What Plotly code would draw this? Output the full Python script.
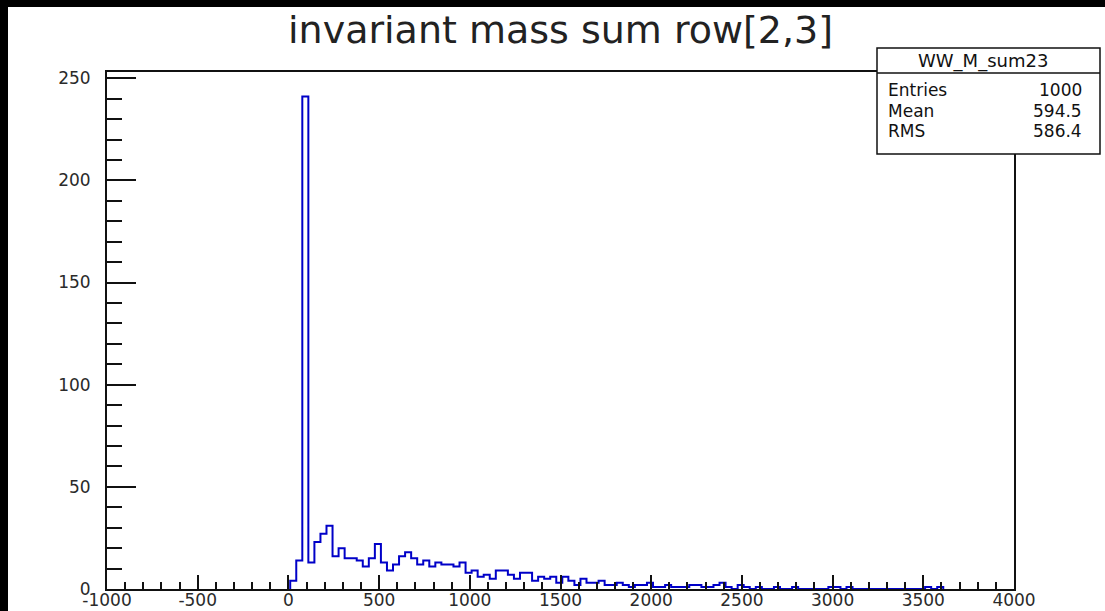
import plotly.graph_objects as go

# Histogram binning: 150 bins over [-1000, 4000] -> width 100/3
bin_width = 100.0 / 3.0
first_edge = 10.0

# Bin contents, starting at first_edge
counts = [
    4, 14, 241, 13, 23, 27, 31, 16, 20, 15,
    15, 14, 11, 15, 22, 13, 9, 12, 16, 18,
    15, 12, 14, 11, 13, 12, 12, 11, 13, 8,
    9, 6, 7, 5, 9, 9, 7, 5, 8, 8,
    4, 6, 5, 6, 3, 6, 4, 2, 5, 3,
    3, 4, 2, 2, 3, 2, 1, 2, 2, 3,
    1, 1, 2, 1, 1, 1, 2, 2, 1, 1,
    2, 3, 1, 0, 2, 1, 0, 1, 0, 0,
    1, 0, 0, 1, 0, 0, 0, 0, 0, 1,
    1, 0, 1, 0, 0, 0, 0, 0, 0, 0,
    0, 0, 0, 0, 0, 1, 0, 1,
]

title_text = "invariant mass sum row[2,3]"
hist_name = "WW_M_sum23"
stat_labels = ["Entries", "Mean", "RMS"]
stat_values = ["1000", "594.5", "586.4"]

x_tickvals = [-1000, -500, 0, 500, 1000, 1500, 2000, 2500, 3000, 3500, 4000]
x_ticktext = ["-1000", "-500", "0", "500", "1000", "1500", "2000", "2500",
              "3000", "3500", "4000"]
y_tickvals = [0, 50, 100, 150, 200, 250]
y_ticktext = ["0", "50", "100", "150", "200", "250"]

x_range = [-1000, 4000]
y_range = [0, 1.05 * max(counts)]

# Canvas geometry in pixels
W, H = 1105, 611
L, R, T, B = 107, 1014, 72, 589


def px(xp):
    return (xp - L) / (R - L)


def py(yp):
    return (B - yp) / (B - T)


edges = [first_edge + i * bin_width for i in range(len(counts) + 1)]
xs = [edges[0]] + edges[:-1] + [edges[-1]]
ys = [0] + counts + [0]

fig = go.Figure()
fig.add_trace(go.Scatter(
    x=xs, y=ys, mode="lines",
    line=dict(color="#0000c8", width=2, shape="hv"),
    hoverinfo="skip", showlegend=False,
))

ink = "#111111"
tick_font = dict(family="DejaVu Sans", size=17, color="#2a2a2a")
axis_common = dict(
    showgrid=False, zeroline=False, showline=True, linecolor=ink,
    linewidth=2, mirror=True, ticks="inside", tickcolor=ink,
    tickwidth=2, tickfont=tick_font, automargin=False,
)

fig.update_xaxes(
    range=x_range, tickmode="array", tickvals=x_tickvals,
    ticktext=x_ticktext, ticklen=14,
    minor=dict(dtick=100, tick0=0, ticklen=7, ticks="inside",
               tickcolor=ink, tickwidth=2),
    ticklabelstandoff=-5,
    **axis_common,
)
fig.update_yaxes(
    range=y_range, tickmode="array", tickvals=y_tickvals,
    ticktext=y_ticktext, ticklen=29,
    minor=dict(dtick=10, tick0=0, ticklen=15, ticks="inside",
               tickcolor=ink, tickwidth=2),
    ticklabelstandoff=11,
    **axis_common,
)

shapes = []
# dark outer border of the canvas
shapes.append(dict(type="rect", xref="paper", yref="paper",
                   x0=px(0), x1=px(8), y0=py(H), y1=py(0),
                   fillcolor="black", line=dict(width=0), layer="above"))
shapes.append(dict(type="rect", xref="paper", yref="paper",
                   x0=px(0), x1=px(W), y0=py(7), y1=py(0),
                   fillcolor="black", line=dict(width=0), layer="above"))

# statistics box
bx0, bx1, by0, by1, bsep = 877, 1100, 48, 154, 73
shapes.append(dict(type="rect", xref="paper", yref="paper",
                   x0=px(bx0), x1=px(bx1), y0=py(by1), y1=py(by0),
                   fillcolor="white", line=dict(color=ink, width=1.5),
                   layer="above"))
shapes.append(dict(type="line", xref="paper", yref="paper",
                   x0=px(bx0), x1=px(bx1), y0=py(bsep), y1=py(bsep),
                   line=dict(color=ink, width=1.5), layer="above"))

stat_font = dict(family="DejaVu Sans", size=17, color=ink)
annotations = [
    dict(text=title_text, xref="paper", yref="paper", x=px(560), y=py(30),
         xanchor="center", yanchor="middle", showarrow=False,
         font=dict(family="DejaVu Sans", size=38, color="#222222")),
    dict(text=hist_name, xref="paper", yref="paper", x=px(983), y=py(61),
         xanchor="center", yanchor="middle", showarrow=False,
         font=dict(family="DejaVu Sans", size=18, color=ink)),
]
row_y = [90, 110.5, 131]
for lab, val, yy in zip(stat_labels, stat_values, row_y):
    annotations.append(dict(text=lab, xref="paper", yref="paper", x=px(886),
                            y=py(yy), xanchor="left", yanchor="middle",
                            showarrow=False, font=stat_font))
    annotations.append(dict(text=val, xref="paper", yref="paper", x=px(1084),
                            y=py(yy), xanchor="right", yanchor="middle",
                            showarrow=False, font=stat_font))

fig.update_layout(
    width=W, height=H,
    margin=dict(l=L, r=W - R, t=T, b=H - B, pad=0),
    paper_bgcolor="white", plot_bgcolor="white",
    shapes=shapes, annotations=annotations,
    showlegend=False,
)

fig.write_html("out.html")
